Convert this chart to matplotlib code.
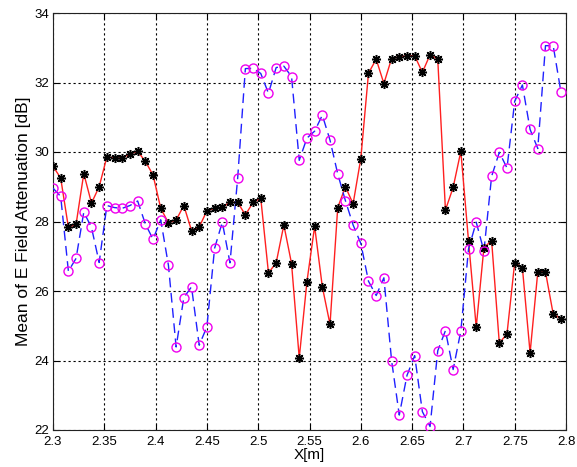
import numpy as np
import matplotlib
matplotlib.use('Agg')
import matplotlib.pyplot as plt

# x positions: 67 samples, 0.0075 m apart starting at 2.3 m
x_start = 2.3
x_step = 0.0075
n_pts = 67

# red / black-star series
atten_a = [29.59, 29.25, 27.83, 27.92, 29.38, 28.53, 29.00, 29.86, 29.83, 29.83,
           29.94, 30.02, 29.73, 29.34, 28.38, 27.96, 28.04, 28.46, 27.74, 27.84,
           28.31, 28.38, 28.41, 28.55, 28.55, 28.19, 28.55, 28.67, 26.52, 26.81,
           27.90, 26.79, 24.07, 26.27, 27.86, 26.12, 25.04, 28.40, 29.00, 28.51,
           29.81, 32.27, 32.67, 31.97, 32.69, 32.74, 32.77, 32.77, 32.29, 32.80,
           32.67, 28.33, 28.98, 30.02, 27.44, 24.96, 27.25, 27.45, 24.50, 24.77,
           26.82, 26.67, 24.22, 26.55, 26.55, 25.34, 25.20]

# blue dashed / magenta circle series
atten_b = [28.96, 28.72, 26.57, 26.94, 28.27, 27.83, 26.82, 28.46, 28.40, 28.38,
           28.46, 28.59, 27.93, 27.49, 28.05, 26.74, 24.39, 25.81, 26.12, 24.44,
           24.97, 27.23, 27.98, 26.81, 29.25, 32.40, 32.41, 32.26, 31.69, 32.43,
           32.47, 32.17, 29.76, 30.40, 30.60, 31.06, 30.34, 29.37, 28.60, 27.90,
           27.37, 26.28, 25.87, 26.38, 24.00, 22.43, 23.57, 24.14, 22.53, 22.10,
           24.28, 24.86, 23.74, 24.85, 27.21, 27.98, 27.15, 29.30, 29.99, 29.54,
           31.46, 31.93, 30.65, 30.10, 33.06, 33.06, 31.74]

x_ticks = [2.3, 2.35, 2.4, 2.45, 2.5, 2.55, 2.6, 2.65, 2.7, 2.75, 2.8]
x_tick_labels = ['2.3', '2.35', '2.4', '2.45', '2.5', '2.55', '2.6', '2.65', '2.7', '2.75', '2.8']
y_ticks = [22, 24, 26, 28, 30, 32, 34]

x = x_start + x_step * np.arange(n_pts)

plt.rcParams['font.family'] = ['Liberation Sans', 'DejaVu Sans']

fig = plt.figure(figsize=(5.77, 4.67), dpi=100)
ax = fig.add_axes([53 / 577, 37 / 467, 513 / 577, 417 / 467])

ax.plot(x, atten_a, color='#ff2020', linewidth=1.0, zorder=3)
ax.plot(x, atten_a, linestyle='none', marker=(8, 2, 0), markersize=6.5,
        markeredgecolor='black', markeredgewidth=1.1, zorder=4)
ax.plot(x, atten_b, color='#2020ff', linewidth=1.0, linestyle=(0, (7, 4)), zorder=3)
ax.plot(x, atten_b, linestyle='none', marker='o', markersize=6.5,
        markerfacecolor='none', markeredgecolor='#ee00ee', markeredgewidth=1.0, zorder=4)

ax.set_xlim(2.3, 2.8)
ax.set_ylim(22, 34)
ax.set_xticks(x_ticks)
ax.set_xticklabels(x_tick_labels)
ax.set_yticks(y_ticks)
ax.grid(True, color='black', linestyle=(0, (2, 2.5)), linewidth=0.8)
ax.tick_params(direction='in', length=4, width=0.8, top=True, right=True,
               labelsize=9.5)
ax.tick_params(axis='x', pad=4)
ax.tick_params(axis='y', pad=3)
for sp in ax.spines.values():
    sp.set_linewidth(0.8)
    sp.set_color('#222222')

ax.set_xlabel('X[m]', fontsize=11, labelpad=0)
ax.set_ylabel('Mean of E Field Attenuation [dB]', fontsize=12.5, labelpad=2)

fig.savefig('out.png', dpi=100)
